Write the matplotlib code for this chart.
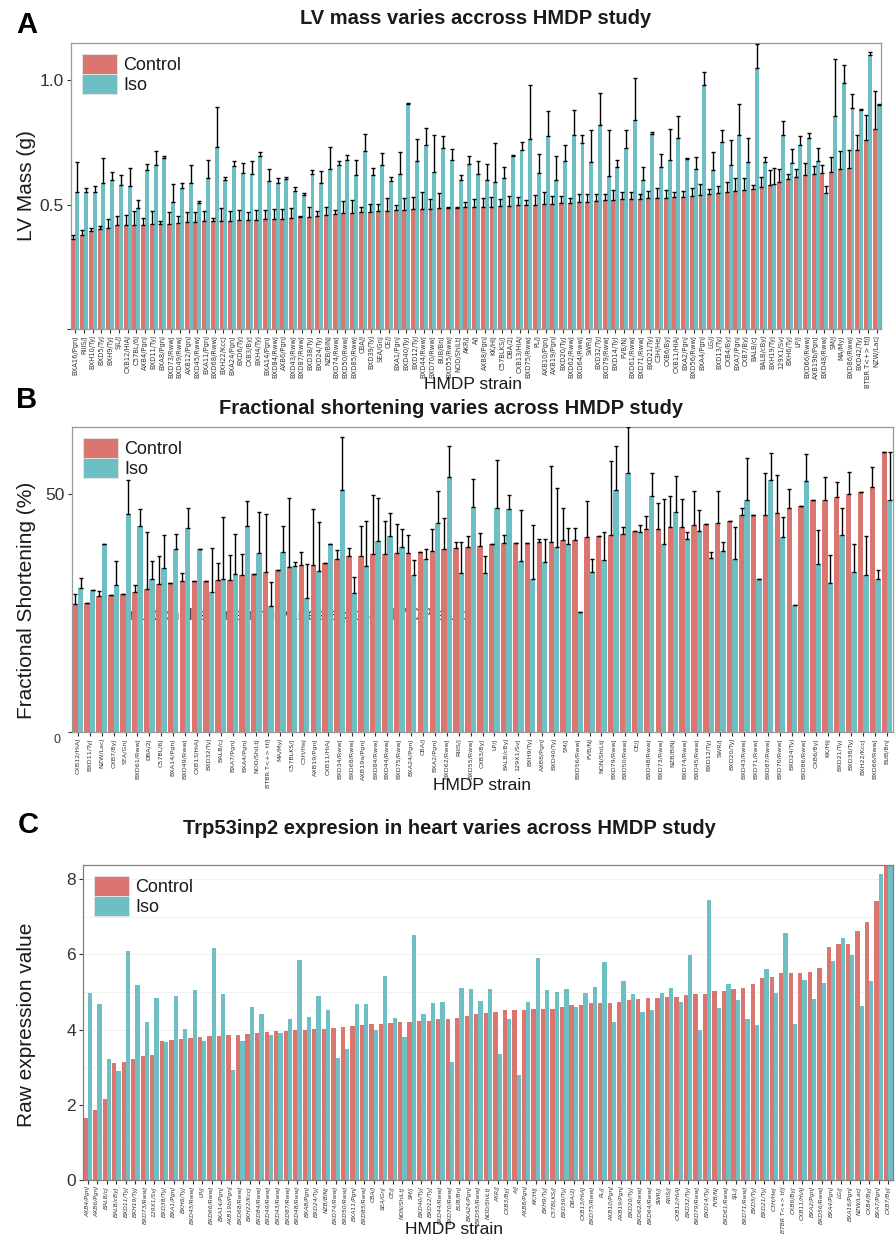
import matplotlib
matplotlib.use('Agg')
import matplotlib.pyplot as plt
import numpy as np
from matplotlib.patches import Patch

plt.rcParams['font.family'] = ['Liberation Sans', 'DejaVu Sans']

# ---------------- Panel A data (LV mass) ----------------
strains_A = ["BXA16/PgnJ", "RIIIS/J", "BXH10/TyJ", "BXD5/TyJ", "BXH9/TyJ", "SJL/J", "CXB12/HiAJ", "C57BL/6J",
             "AXB4/PgnJ", "BXD11/TyJ", "BXA8/PgnJ", "BXD73/RwwJ", "BXD49/RwwJ", "AXB12/PgnJ", "BXD45/RwwJ",
             "BXA11/PgnJ", "BXD68/RwwJ", "BXH22/KccJ", "BXA24/PgnJ", "BXD6/TyJ", "CXB3/ByJ", "BXH4/TyJ",
             "BXA14/PgnJ", "BXD84/RwwJ", "AXB6/PgnJ", "BXD43/RwwJ", "BXD87/RwwJ", "BXD38/TyJ", "BXD24/TyJ",
             "NZB/BlNJ", "BXD74/RwwJ", "BXD50/RwwJ", "BXD85/RwwJ", "CBA/J", "BXD39/TyJ", "SEA/GnJ", "CE/J",
             "BXA1/PgnJ", "BXD40/TyJ", "BXD12/TyJ", "BXD44/RwwJ", "BXD70/RwwJ", "BUB/BnJ", "BXD55/RwwJ",
             "NOD/ShiLtJ", "AKR/J", "A/J", "AXB8/PgnJ", "KK/HlJ", "C57BLKS/J", "DBA/2J", "CXB13/HiAJ",
             "BXD75/RwwJ", "PL/J", "AXB10/PgnJ", "AXB19/PgnJ", "BXD20/TyJ", "BXD62/RwwJ", "BXD64/RwwJ",
             "SWR/J", "BXD32/TyJ", "BXD79/RwwJ", "BXD14/TyJ", "FVB/NJ", "BXD61/RwwJ", "BXD71/RwwJ",
             "BXD21/TyJ", "C3H/HeJ", "CXB6/ByJ", "CXB11/HiAJ", "BXA2/PgnJ", "BXD56/RwwJ", "BXA4/PgnJ",
             "LG/J", "BXD13/TyJ", "CXB4/ByJ", "BXA7/PgnJ", "CXB7/ByJ", "BALB/cJ", "BALB/cByJ", "BXH19/TyJ",
             "129X1/SvJ", "BXH6/TyJ", "LP/J", "BXD66/RwwJ", "AXB19b/PgnJ", "BXD48/RwwJ", "SM/J", "MA/MyJ",
             "BXD86/RwwJ", "BXD42/TyJ", "BTBR T<+> tf/J", "NZW/LacJ"]
control_A = [0.360, 0.378, 0.395, 0.404, 0.407, 0.420, 0.420, 0.420, 0.420, 0.423,
             0.423, 0.423, 0.427, 0.430, 0.432, 0.434, 0.435, 0.436, 0.436, 0.438,
             0.439, 0.440, 0.443, 0.443, 0.444, 0.448, 0.450, 0.450, 0.456, 0.460,
             0.464, 0.466, 0.467, 0.470, 0.471, 0.474, 0.475, 0.477, 0.478, 0.481,
             0.482, 0.482, 0.485, 0.485, 0.486, 0.489,
             0.491, 0.492, 0.492, 0.493, 0.495, 0.497, 0.497, 0.498, 0.501, 0.504,
             0.506, 0.508, 0.509, 0.511, 0.514, 0.517, 0.519, 0.521, 0.522, 0.523,
             0.525, 0.526, 0.528, 0.529, 0.531, 0.535, 0.538, 0.542, 0.545, 0.552,
             0.556, 0.558, 0.561, 0.572, 0.578, 0.592, 0.602, 0.612, 0.619, 0.624,
             0.628, 0.632, 0.645, 0.648, 0.719, 0.759, 0.806]
control_err_A = [0.017, 0.020, 0.010, 0.010, 0.035, 0.035, 0.040, 0.056, 0.027, 0.050,
                 0.010, 0.048, 0.027, 0.040, 0.040, 0.040, 0.010, 0.050, 0.040, 0.040,
                 0.030, 0.040, 0.035, 0.040, 0.040, 0.040, 0.005, 0.040, 0.020, 0.030,
                 0.015, 0.050, 0.050, 0.020, 0.030, 0.030, 0.050, 0.020, 0.050, 0.050,
                 0.070, 0.040, 0.060, 0.005, 0.005, 0.020,
                 0.030, 0.035, 0.040, 0.030, 0.040, 0.035, 0.020, 0.040, 0.050, 0.030,
                 0.030, 0.020, 0.035, 0.030, 0.030, 0.025, 0.040, 0.030, 0.030, 0.020,
                 0.030, 0.040, 0.030, 0.020, 0.025, 0.030, 0.045, 0.020, 0.030, 0.040,
                 0.050, 0.050, 0.020, 0.040, 0.060, 0.050, 0.020, 0.030, 0.050, 0.030,
                 0.030, 0.060, 0.070, 0.070, 0.060, 0.100, 0.150]
iso_A = [0.549, 0.549, 0.549, 0.589, 0.601, 0.578, 0.577, 0.485, 0.639, 0.660,
         0.689, 0.509, 0.565, 0.589, 0.505, 0.608, 0.732, 0.598, 0.655, 0.628,
         0.625, 0.696, 0.594, 0.589, 0.605, 0.556, 0.538, 0.625, 0.589, 0.645,
         0.659, 0.679, 0.621, 0.716, 0.618, 0.661, 0.596, 0.625, 0.904, 0.675,
         0.739, 0.632, 0.726, 0.679, 0.598, 0.665,
         0.625, 0.601, 0.592, 0.608, 0.695, 0.719, 0.763, 0.628, 0.778, 0.601,
         0.676, 0.782, 0.746, 0.672, 0.819, 0.616, 0.652, 0.728, 0.839, 0.601,
         0.786, 0.652, 0.679, 0.766, 0.683, 0.645, 0.983, 0.641, 0.752, 0.661,
         0.782, 0.672, 1.051, 0.672, 0.585, 0.782, 0.668, 0.739, 0.766, 0.675,
         0.545, 0.857, 0.991, 0.889, 0.880, 1.100, 0.900]
iso_err_A = [0.123, 0.019, 0.027, 0.099, 0.031, 0.043, 0.071, 0.033, 0.023, 0.056,
             0.005, 0.074, 0.023, 0.070, 0.010, 0.070, 0.160, 0.015, 0.020, 0.040,
             0.050, 0.015, 0.050, 0.020, 0.005, 0.015, 0.010, 0.015, 0.045, 0.085,
             0.015, 0.020, 0.060, 0.070, 0.030, 0.045, 0.015, 0.085, 0.005, 0.090,
             0.070, 0.150, 0.050, 0.045, 0.020, 0.030,
             0.050, 0.064, 0.154, 0.044, 0.005, 0.033, 0.217, 0.075, 0.098, 0.095,
             0.063, 0.100, 0.036, 0.127, 0.131, 0.186, 0.027, 0.074, 0.170, 0.051,
             0.005, 0.050, 0.127, 0.091, 0.005, 0.047, 0.051, 0.071, 0.047, 0.100,
             0.124, 0.096, 0.096, 0.020, 0.063, 0.055, 0.054, 0.037, 0.023, 0.051,
             0.030, 0.230, 0.072, 0.054, 0.005, 0.013, 0.005]

# ---------------- Panel B data (fractional shortening) ----------------
strains_B = ["CXB12/HiAJ", "BXD11/TyJ", "NZW/LacJ", "CXB7/ByJ", "SEA/GnJ", "BXD61/RwwJ", "DBA/2J",
             "C57BL/6J", "BXA14/PgnJ", "BXD49/RwwJ", "CXB13/HiAJ", "BXD32/TyJ", "BALB/cJ", "BXA7/PgnJ",
             "BXA4/PgnJ", "NOD/ShiLtJ", "BTBR T<+> tf/J", "MA/MyJ", "C57BLKS/J", "C3H/HeJ", "AXB19/PgnJ",
             "CXB11/HiAJ", "BXD34/RwwJ", "BXD68/RwwJ", "AXB19a/PgnJ", "BXD84/RwwJ", "BXD44/RwwJ",
             "BXD75/RwwJ", "BXA24/PgnJ", "CBA/J", "BXA2/PgnJ", "BXD62/RwwJ", "RIIIS/J", "BXD55/RwwJ",
             "CXB3/ByJ", "LP/J", "BALB/cByJ", "129X1/SvJ", "BXH9/TyJ", "AXB8/PgnJ", "BXD40/TyJ", "SM/J",
             "BXD56/RwwJ", "FVB/NJ", "NON/ShiLtJ", "BXD79/RwwJ", "BXD50/RwwJ", "CE/J", "BXD48/RwwJ",
             "BXD73/RwwJ", "NZB/BlNJ", "BXD74/RwwJ", "BXD45/RwwJ", "BXD12/TyJ", "SWR/J", "BXD20/TyJ",
             "BXD43/RwwJ", "BXD71/RwwJ", "BXD87/RwwJ", "BXD70/RwwJ", "BXD24/TyJ", "BXD86/RwwJ",
             "CXB6/ByJ", "KK/HlJ", "BXD21/TyJ", "BXD38/TyJ", "BXH22/KccJ", "BXD66/RwwJ", "BUB/BnJ"]
control_B = [26.9, 27.1, 28.5, 28.8, 29.0, 29.4, 30.1, 31.1, 31.3, 31.6,
             31.7, 31.7, 31.8, 31.9, 32.9, 33.1, 33.6, 34.0, 34.7, 35.0,
             35.0, 35.5, 36.4, 37.0, 37.0, 37.4, 37.4, 37.5, 37.6, 37.8,
             38.0, 38.4, 38.7, 38.9, 39.1, 39.4, 39.6, 39.7, 39.7, 39.8,
             39.8, 40.2, 40.3, 40.9, 41.2, 41.4, 41.5, 42.1, 42.6, 42.6,
             43.0, 43.0, 43.4, 43.6, 43.9, 44.2, 45.5, 45.5, 45.5, 45.9,
             47.1, 47.5, 48.6, 48.6, 49.4, 49.9, 50.4, 51.5, 58.7]
control_err_B = [2.1, 0.0, 1.0, 0.0, 0.0, 1.4, 11.9, 5.8, 0.0, 1.7,
                 0.0, 0.0, 3.6, 5.3, 4.5, 0.0, 12.2, 0.0, 14.4, 2.8,
                 11.7, 0.0, 1.8, 1.7, 6.2, 12.4, 6.9, 6.2, 3.7, 0.0,
                 4.6, 6.6, 1.2, 2.2, 2.7, 0.0, 1.8, 0.0, 0.0, 0.6,
                 16.1, 6.8, 2.5, 7.6, 0.0, 15.4, 1.6, 0.0, 2.7, 5.5,
                 6.6, 5.9, 7.2, 0.0, 6.7, 0.0, 1.6, 0.0, 8.9, 8.1,
                 3.9, 0.0, 0.0, 5.0, 3.1, 4.7, 0.0, 4.1, 0.0]
iso_B = [30.2, 29.8, 39.4, 30.9, 45.7, 43.3, 32.2, 34.5, 38.3, 42.8,
         38.5, 29.4, 32.1, 33.2, 43.3, 37.6, 26.4, 37.8, 34.9, 28.1,
         33.7, 39.5, 50.7, 29.2, 34.8, 40.1, 41.1, 38.9, 33.0, 36.2,
         43.8, 53.6, 33.4, 47.2, 33.3, 47.0, 46.8, 35.9, 32.1, 35.7,
         38.8, 39.4, 25.1, 33.6, 36.1, 50.8, 54.3, 42.0, 49.6, 39.4,
         46.1, 40.5, 42.2, 36.6, 37.9, 36.3, 48.7, 32.1, 52.9, 40.9,
         26.6, 52.7, 35.2, 31.3, 41.3, 33.6, 32.9, 32.2, 48.6]
iso_err_B = [2.2, 0.0, 0.0, 4.9, 7.2, 3.4, 3.6, 6.9, 3.3, 4.2,
             0.0, 9.3, 13.1, 8.3, 5.1, 8.5, 5.0, 5.4, 0.7, 7.2,
             10.3, 0.0, 11.3, 3.3, 9.4, 9.1, 4.9, 3.6, 3.1, 2.2,
             6.7, 6.5, 6.5, 5.9, 3.6, 10.1, 3.0, 10.6, 11.4, 4.8,
             12.4, 3.5, 0.0, 2.6, 5.8, 9.3, 9.6, 1.5, 4.8, 9.4,
             7.7, 1.5, 4.4, 1.2, 2.0, 6.7, 8.8, 0.0, 5.6, 4.3,
             0.0, 5.7, 7.2, 5.9, 5.7, 5.9, 8.3, 1.8, 10.2]

# ---------------- Panel C data (Trp53inp2 expression) ----------------
strains_C = ["AXB4/PgnJ", "AXB6/PgnJ", "BALB/cJ", "BALB/cByJ", "BXD11/TyJ", "BXH19/TyJ", "BXD73/RwwJ",
             "129X1/SvJ", "BXD38/TyJ", "BXA1/PgnJ", "BXH6/TyJ", "BXD45/RwwJ", "LP/J", "BXD66/RwwJ",
             "BXA14/PgnJ", "AXB19b/PgnJ", "BXD68/RwwJ", "BXH22/KccJ", "BXD84/RwwJ", "BXD49/RwwJ",
             "BXD43/RwwJ", "BXD87/RwwJ", "BXD48/RwwJ", "BXA8/PgnJ", "BXD24/TyJ", "NZB/BlNJ", "BXD74/RwwJ",
             "BXD50/RwwJ", "BXA11/PgnJ", "BXD85/RwwJ", "CBA/J", "SEA/GnJ", "CE/J", "NON/ShiLtJ", "SM/J",
             "BXD40/TyJ", "BXD12/TyJ", "BXD44/RwwJ", "BXD70/RwwJ", "BUB/BnJ", "BXA24/PgnJ", "BXD55/RwwJ",
             "NOD/ShiLtJ", "AKR/J", "CXB3/ByJ", "A/J", "AXB8/PgnJ", "KK/HlJ", "BXH9/TyJ", "C57BLKS/J",
             "BXD39/TyJ", "DBA/2J", "CXB13/HiAJ", "BXD75/RwwJ", "PL/J", "AXB10/PgnJ", "AXB19/PgnJ",
             "BXD20/TyJ", "BXD62/RwwJ", "BXD64/RwwJ", "SWR/J", "RIIIS/J", "CXB12/HiAJ", "BXD32/TyJ",
             "BXD79/RwwJ", "BXD14/TyJ", "FVB/NJ", "BXD61/RwwJ", "SJL/J", "BXD71/RwwJ", "BXD5/TyJ",
             "BXD21/TyJ", "C3H/HeJ", "BTBR T<+> tf/J", "CXB6/ByJ", "CXB11/HiAJ", "BXA2/PgnJ", "BXD56/RwwJ",
             "BXA4/PgnJ", "LG/J", "BXA16/PgnJ", "NZW/LacJ", "CXB4/ByJ", "BXA7/PgnJ", "CXB7/ByJ"]
control_C = [1.64, 1.86, 2.15, 3.10, 3.14, 3.23, 3.29, 3.33, 3.69, 3.72,
             3.76, 3.79, 3.81, 3.84, 3.84, 3.85, 3.86, 3.88, 3.91, 3.95,
             3.96, 3.97, 3.99, 4.00, 4.01, 4.03, 4.05, 4.06, 4.09, 4.12,
             4.15, 4.16, 4.18, 4.20, 4.20, 4.22, 4.24, 4.27, 4.28, 4.31,
             4.37, 4.42, 4.44, 4.48, 4.51, 4.51, 4.52, 4.54, 4.55, 4.56,
             4.61, 4.66, 4.66, 4.70, 4.70, 4.70, 4.73, 4.79, 4.82, 4.85,
             4.85, 4.87, 4.87, 4.92, 4.94, 4.95, 5.02, 5.04, 5.07, 5.11,
             5.21, 5.37, 5.40, 5.50, 5.52, 5.52, 5.54, 5.63, 6.20, 6.27,
             6.27, 6.63, 6.86, 7.41, 8.45]
iso_C = [4.98, 4.68, 3.22, 2.91, 6.10, 5.20, 4.20, 4.84, 3.66, 4.89,
         4.02, 5.06, 3.70, 6.16, 4.95, 2.92, 3.71, 4.59, 4.42, 3.85,
         3.90, 4.29, 5.85, 4.33, 4.90, 4.52, 3.24, 3.49, 4.67, 4.68,
         3.99, 5.43, 4.30, 3.80, 6.51, 4.41, 4.70, 4.74, 3.13, 5.10,
         5.07, 4.77, 5.07, 3.35, 4.27, 2.79, 4.74, 5.90, 5.05, 4.99,
         5.07, 4.59, 4.97, 5.13, 5.81, 4.21, 5.29, 4.94, 4.47, 4.53,
         4.97, 5.12, 4.74, 5.99, 3.99, 7.45, 4.58, 5.22, 4.79, 4.27,
         4.12, 5.61, 4.97, 6.58, 4.15, 5.31, 4.82, 5.23, 5.83, 6.43,
         5.98, 4.63, 5.29, 8.14, 8.45]

CTRL = '#DA766F'
ISO = '#6DBFC4'
TXT = '#333333'
NARROW = ['Liberation Sans Narrow', 'DejaVu Sans Condensed', 'DejaVu Sans']

W, H = 896, 1238
fig = plt.figure(figsize=(W / 100, H / 100), dpi=100)


def px_axes(l, t, r, b):
    return fig.add_axes([l / W, 1 - b / H, (r - l) / W, (b - t) / H])


def panel(ax, names, ctrl, iso, cerr, ierr, ylim, yticks, yticklabels,
          lab_size, italic=False, tick_size=12, spine='#999999'):
    n = len(names)
    x = np.arange(n)
    w = 0.45
    ax.bar(x - w / 2, ctrl, w, color=CTRL, linewidth=0, zorder=2)
    ax.bar(x + w / 2, iso, w, color=ISO, linewidth=0, zorder=2)
    if cerr is not None:
        ax.errorbar(x - w / 2, ctrl, yerr=[np.zeros(n), cerr], fmt='none', ecolor='black',
                    elinewidth=1.0, capsize=1.4, capthick=1.0, zorder=3)
        ax.errorbar(x + w / 2, iso, yerr=[np.zeros(n), ierr], fmt='none', ecolor='black',
                    elinewidth=1.0, capsize=1.4, capthick=1.0, zorder=3)
    ax.set_xlim(-0.5, n - 0.5)
    ax.set_ylim(*ylim)
    ax.set_xticks(x)
    ax.set_xticklabels(names, rotation=90, fontsize=lab_size, family=NARROW,
                       style='italic' if italic else 'normal', color=TXT)
    ax.set_yticks(yticks)
    ax.set_yticklabels(yticklabels, fontsize=tick_size, color=TXT)
    ax.tick_params(axis='both', direction='out', length=3, width=0.8, color=TXT, pad=2)
    ax.tick_params(axis='x', pad=1.5)
    for s in ax.spines.values():
        s.set_color(spine)
        s.set_linewidth(0.9)
    leg = ax.legend(handles=[Patch(facecolor=CTRL, edgecolor='#e6e6e6', linewidth=0.6, label='Control'),
                             Patch(facecolor=ISO, edgecolor='#e6e6e6', linewidth=0.6, label='Iso')],
                    loc='upper left', frameon=False, fontsize=13, handlelength=1.95,
                    handleheight=1.35, labelspacing=0, handletextpad=0.35, borderaxespad=0.6,
                    borderpad=0.0)
    leg.set_zorder(6)
    for t in leg.get_texts():
        t.set_color('#1a1a1a')


# Panel A
axA = px_axes(71, 43, 881, 329)
panel(axA, strains_A, control_A, iso_A, control_err_A, iso_err_A, (0, 1.15), [0, 0.5, 1.0],
      ['', '0.5', '1.0'], lab_size=4.9, tick_size=12.5)

# Panel B
axB = px_axes(72, 427, 893, 732)
panel(axB, strains_B, control_B, iso_B, control_err_B, iso_err_B, (0, 64), [0, 50],
      ['', '50'], lab_size=4.6, tick_size=12.5)
axB.text(18.5, 24.4, 'Fractional shortening varies across HMDP study', fontsize=12,
         color='#444444', ha='center', va='center', zorder=1)

# Panel C
axC = px_axes(83, 865, 893, 1180)
panel(axC, strains_C, control_C, iso_C, None, None, (0, 8.38), [0, 2, 4, 6, 8],
      ['0', '2', '4', '6', '8'], lab_size=4.3, italic=True, tick_size=12.5, spine='#7f7f7f')
axC.set_yticks([1, 3, 5, 7], minor=True)
axC.tick_params(axis='y', which='minor', length=0)
axC.grid(True, axis='y', which='both', color='#f0f0f0', linewidth=0.7, zorder=0)
axC.set_axisbelow(True)


def ftext(x, y, s, **kw):
    fig.text(x / W, 1 - y / H, s, **kw)


ftext(27, 25, 'A', fontsize=21, fontweight='bold', ha='center', va='center', color='black')
ftext(27, 400, 'B', fontsize=21, fontweight='bold', ha='center', va='center', color='black')
ftext(28, 825, 'C', fontsize=21, fontweight='bold', ha='center', va='center', color='black')

ftext(476, 19, 'LV mass varies accross HMDP study', fontsize=14.5, fontweight='bold',
      ha='center', va='center', color='#1a1a1a')
ftext(451, 409, 'Fractional shortening varies across HMDP study', fontsize=14.5,
      fontweight='bold', ha='center', va='center', color='#1a1a1a')
ftext(449, 829, 'Trp53inp2 expresion in heart varies across HMDP study', fontsize=14.5,
      fontweight='bold', ha='center', va='center', color='#1a1a1a')

ftext(26, 186, 'LV Mass (g)', fontsize=15, rotation=90, ha='center', va='center', color='#1a1a1a')
ftext(26, 600, 'Fractional Shortening (%)', fontsize=15, rotation=90, ha='center', va='center',
      color='#1a1a1a')
ftext(26, 1025, 'Raw expression value', fontsize=15, rotation=90, ha='center', va='center',
      color='#1a1a1a')

ftext(473, 384, 'HMDP strain', fontsize=12.5, ha='center', va='center', color='#1a1a1a')
ftext(482, 786, 'HMDP strain', fontsize=12.5, ha='center', va='center', color='#1a1a1a')
ftext(454, 1229, 'HMDP strain', fontsize=12.5, ha='center', va='center', color='#1a1a1a')

ftext(57, 740, '0', fontsize=9, ha='center', va='center', color=TXT)

fig.savefig('out.png', dpi=100)
